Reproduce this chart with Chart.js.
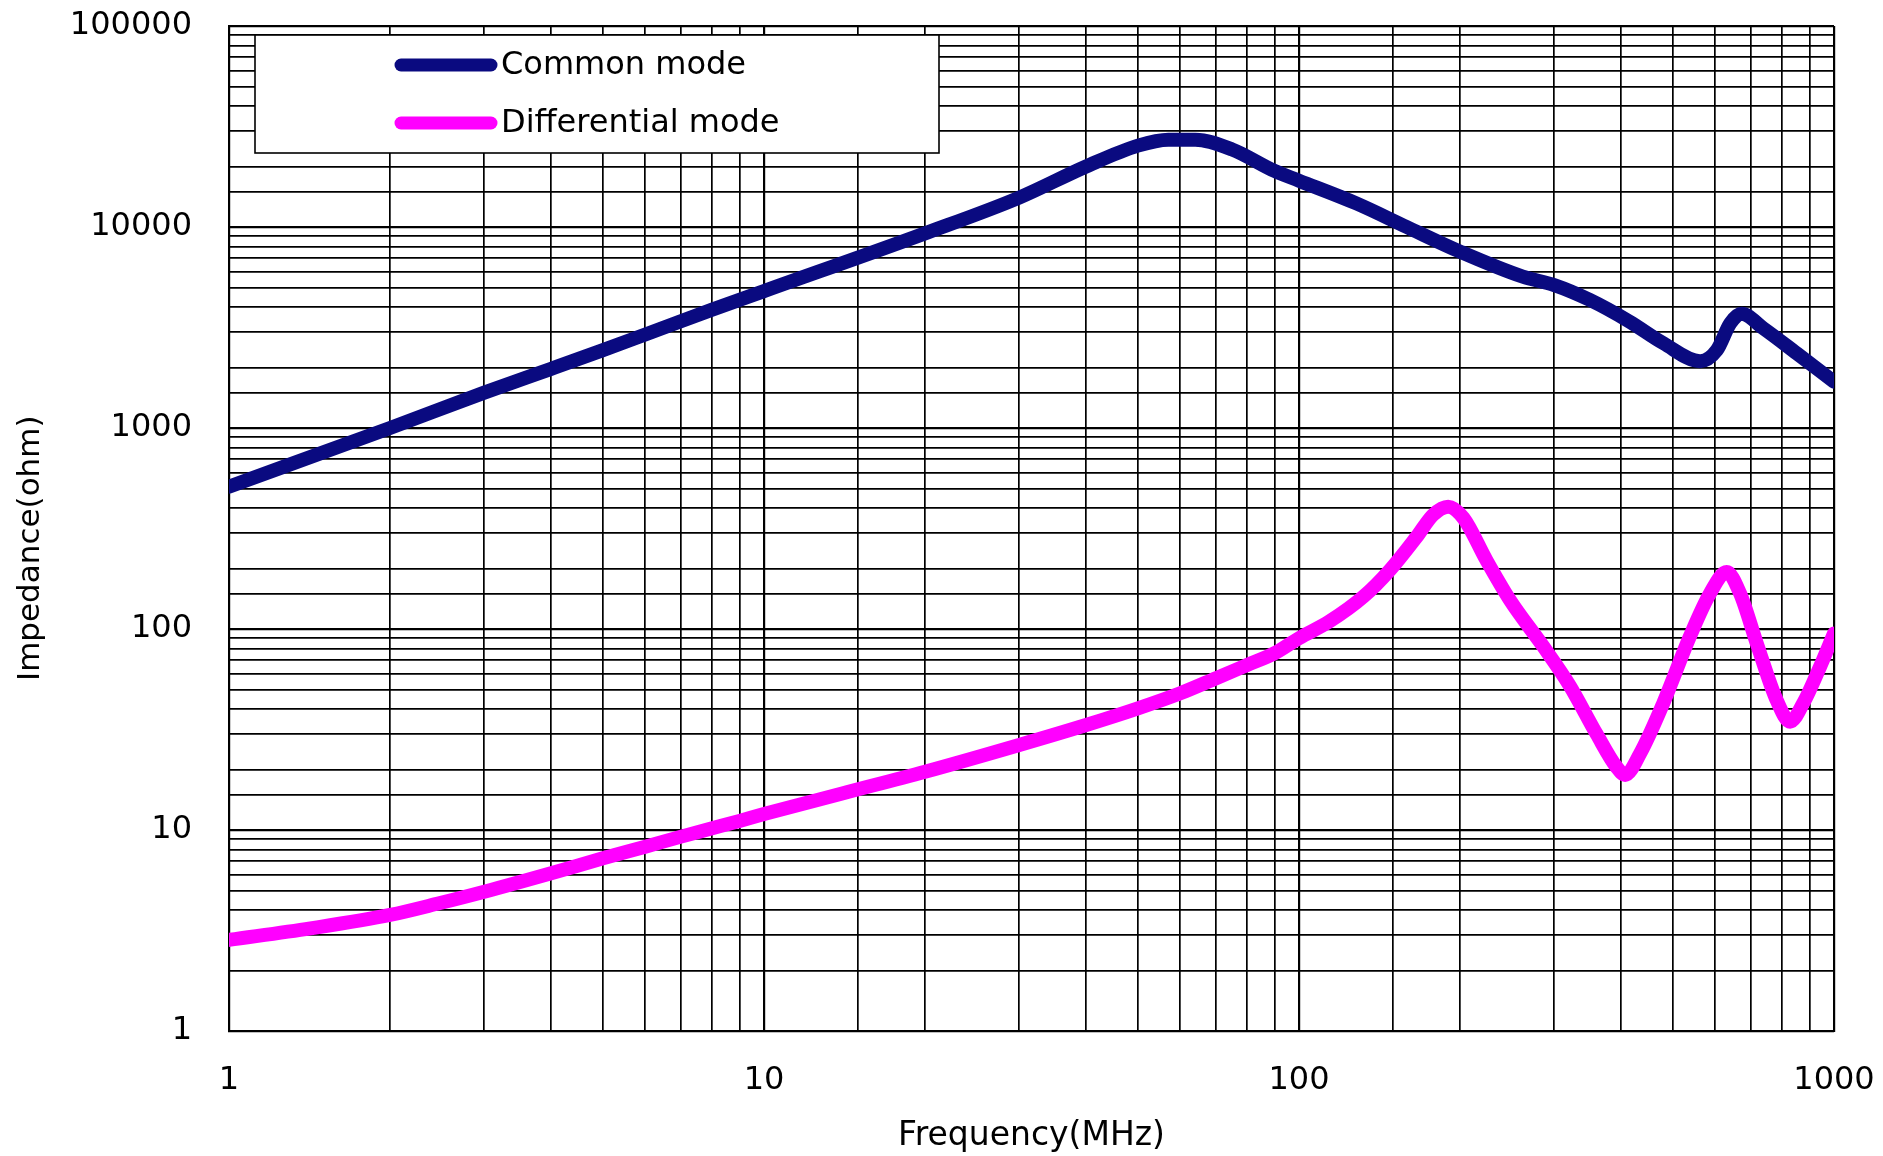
<!DOCTYPE html>
<html>
<head>
<meta charset="utf-8">
<title>Impedance vs Frequency</title>
<script src="https://cdn.jsdelivr.net/npm/chart.js@4.4.1/dist/chart.umd.min.js"></script>
<style>
    html, body { margin: 0; padding: 0; background: #fff; }
    #wrap { width: 1883px; height: 1156px; }
</style>
</head>
<body>
<div id="wrap"><canvas id="chart" width="1883" height="1156"></canvas></div>
<script>
// Common mode curve (MHz, ohm)
const cmFreq = [1, 2, 3, 4, 5, 6, 8, 10, 20, 30, 40, 50, 57, 64, 75, 90, 100, 128, 159, 200, 262, 300, 350, 415, 480, 562, 604, 640, 672, 738, 852, 1000];
const cmImpedance = [511, 1000, 1500, 1970, 2440, 2920, 3880, 4800, 9300, 14000, 20000, 25400, 27200, 27200, 24300, 19000, 17000, 13100, 10000, 7540, 5660, 5140, 4330, 3380, 2640, 2150, 2440, 3320, 3700, 3130, 2350, 1700];

// Differential mode curve (MHz, ohm)
const dmFreq = [1, 1.42, 2, 2.47, 3, 4, 5, 6, 7, 8, 9, 10, 14, 20, 30, 40, 50, 60, 70, 80, 90, 100, 114, 132, 148, 166, 178, 190, 203, 224, 248, 286, 321, 360, 392, 407, 434, 480, 538, 587, 630, 667, 717, 782, 828, 877, 942, 1000];
const dmImpedance = [2.84, 3.24, 3.78, 4.32, 4.93, 6.09, 7.23, 8.26, 9.27, 10.2, 11.1, 12.0, 15.2, 19.5, 26.5, 33.3, 40.3, 47.9, 56.9, 66.2, 75.7, 90, 109, 145, 197, 288, 369, 406, 356, 220, 139, 82, 52, 30, 20.6, 18.8, 24, 43, 92, 151, 192, 151, 85, 44, 34.6, 43, 65, 95];

const seriesLabels = ['Common mode', 'Differential mode'];
const seriesColors = ['#0a0a80', '#ff00ff'];

const xTicks = [1, 10, 100, 1000];
const yTicks = [1, 10, 100, 1000, 10000, 100000];

const FONT = '"DejaVu Sans", Verdana, sans-serif';

const toPoints = (xs, ys) => xs.map((x, i) => ({ x: x, y: ys[i] }));
const isDecade = v => {
    const l = Math.log10(v);
    return Math.abs(l - Math.round(l)) < 1e-9;
};

// legend drawn as a boxed panel inside the plot, top-left
const legendBox = {
    id: 'legendBox',
    afterDraw(chart) {
        const ctx = chart.ctx;
        ctx.save();
        ctx.fillStyle = '#fff';
        ctx.strokeStyle = '#000';
        ctx.lineWidth = 1.6;
        ctx.fillRect(255, 35, 684, 118);
        ctx.strokeRect(255, 35, 684, 118);
        chart.data.datasets.forEach((ds, i) => {
            const y = 65 + i * 58;
            ctx.strokeStyle = ds.borderColor;
            ctx.lineWidth = 13;
            ctx.lineCap = 'round';
            ctx.beginPath();
            ctx.moveTo(401, y);
            ctx.lineTo(491, y);
            ctx.stroke();
            ctx.fillStyle = '#000';
            ctx.font = '32px ' + FONT;
            ctx.textBaseline = 'middle';
            ctx.fillText(ds.label, 501, y + 1);
        });
        ctx.restore();
    }
};

const gridWidth = c => (c.tick && isDecade(c.tick.value) ? 2.2 : 1.7);

new Chart(document.getElementById('chart'), {
    type: 'line',
    data: {
        datasets: [
            { label: seriesLabels[0], data: toPoints(cmFreq, cmImpedance) },
            { label: seriesLabels[1], data: toPoints(dmFreq, dmImpedance) }
        ].map((ds, i) => ({
            ...ds,
            borderColor: seriesColors[i],
            backgroundColor: seriesColors[i],
            borderWidth: 14,
            borderCapStyle: 'round',
            borderJoinStyle: 'round',
            cubicInterpolationMode: 'monotone',
            pointRadius: 0,
            fill: false
        }))
    },
    options: {
        responsive: false,
        animation: false,
        devicePixelRatio: 1,
        layout: { padding: { top: 26, right: 49, left: 0, bottom: 0 } },
        plugins: {
            legend: { display: false },
            tooltip: { enabled: false }
        },
        scales: {
            x: {
                type: 'logarithmic',
                min: 1,
                max: 1000,
                border: { display: true, color: '#000', width: 2 },
                grid: { color: '#000', lineWidth: gridWidth, drawTicks: false },
                ticks: {
                    autoSkip: false,
                    maxRotation: 0,
                    padding: 30,
                    color: '#000',
                    font: { family: FONT, size: 32 },
                    callback: v => (xTicks.includes(v) ? String(v) : '')
                },
                title: {
                    display: true,
                    text: 'Frequency(MHz)',
                    color: '#000',
                    font: { family: FONT, size: 33 },
                    padding: { top: 0, bottom: 0 }
                },
                afterFit: s => {
                    s.height = 125;
                    s.paddingLeft = 0;
                    s.paddingRight = 0;
                }
            },
            y: {
                type: 'logarithmic',
                min: 1,
                max: 100000,
                border: { display: true, color: '#000', width: 2 },
                grid: { color: '#000', lineWidth: gridWidth, drawTicks: false },
                ticks: {
                    autoSkip: false,
                    padding: 37,
                    color: '#000',
                    font: { family: FONT, size: 32 },
                    callback: v => (yTicks.includes(v) ? String(v) : '')
                },
                title: {
                    display: true,
                    // trailing spaces nudge the rotated title a little below centre, as in the source
                    text: 'Impedance(ohm)    ',
                    color: '#000',
                    font: { family: FONT, size: 31 },
                    padding: { top: 12, bottom: 0 }
                },
                afterFit: s => {
                    s.width = 229;
                    s.paddingTop = 0;
                    s.paddingBottom = 0;
                }
            }
        }
    },
    plugins: [legendBox]
});
</script>
</body>
</html>
